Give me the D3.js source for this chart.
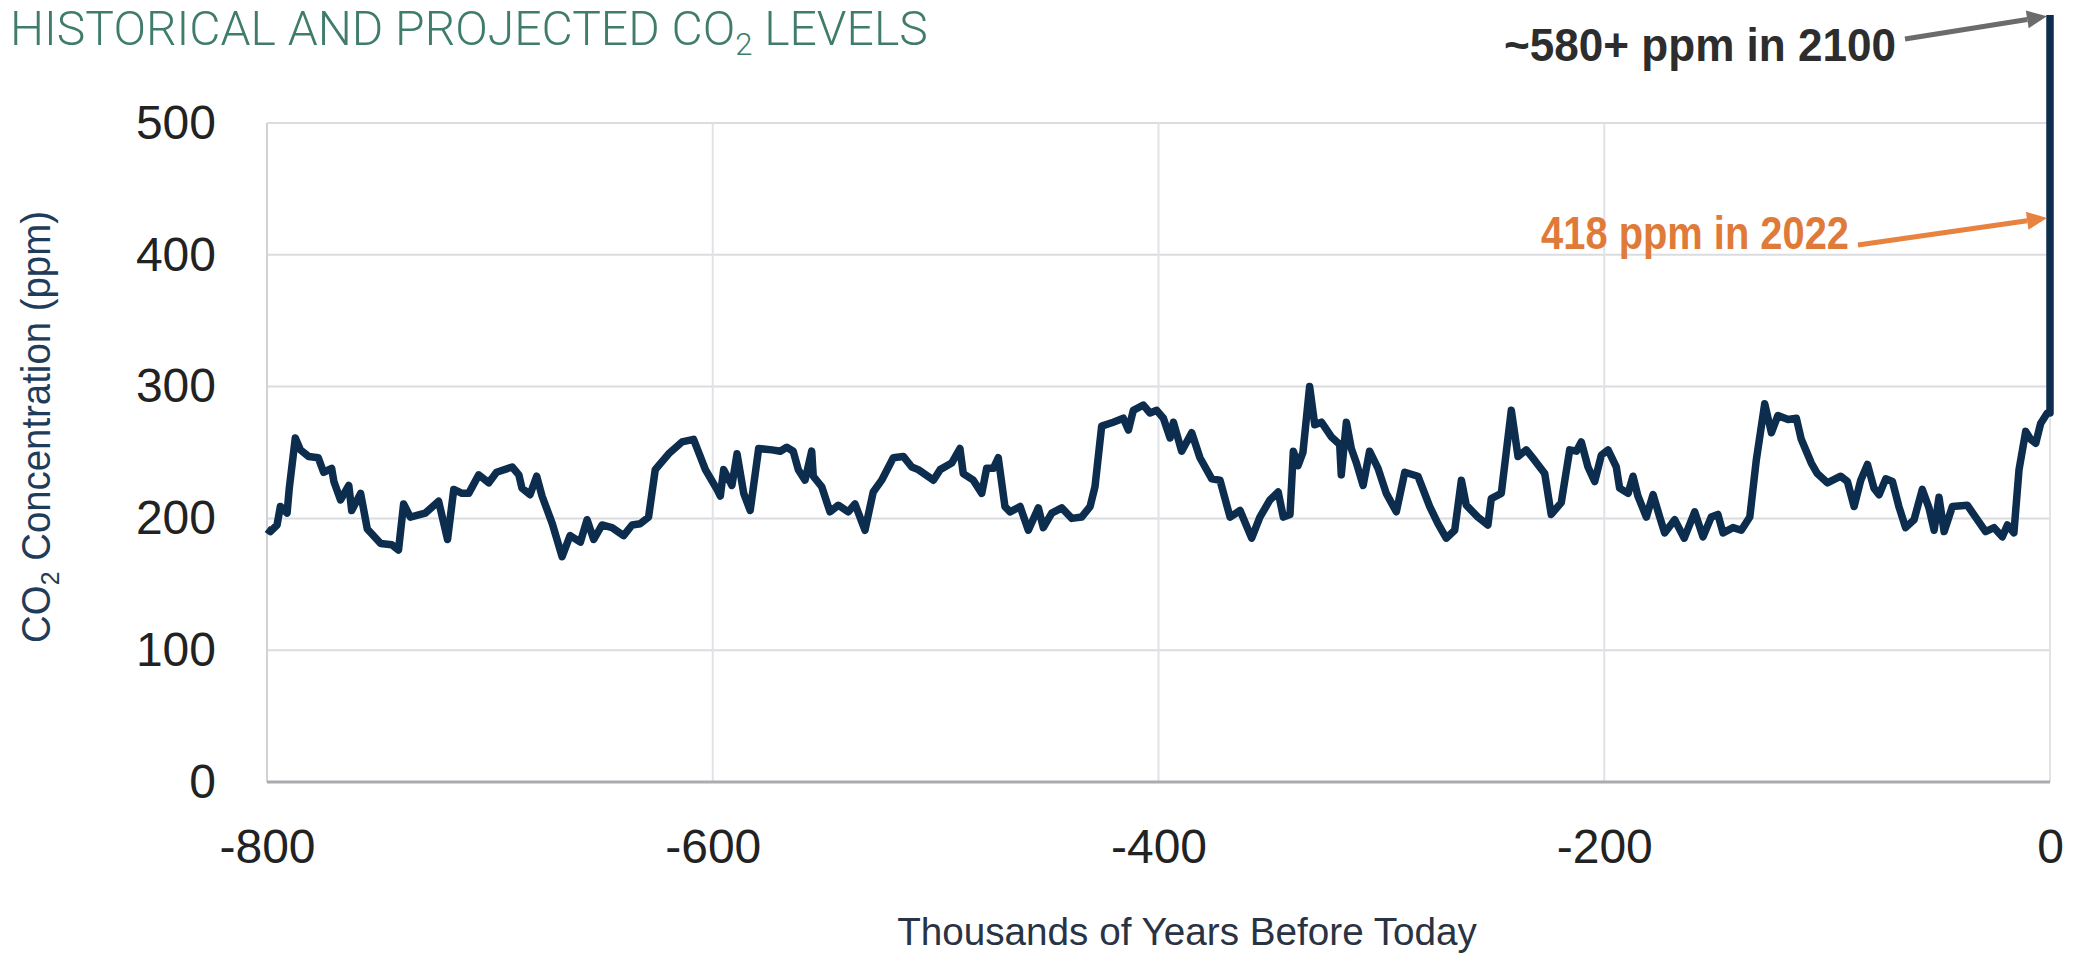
<!DOCTYPE html>
<html>
	<head>
		<meta charset="utf-8" />
		<title>Historical and projected CO2 levels</title>
		<style>
			body { margin: 0; background: #fff; }
			#graph { width: 2074px; height: 962px; }
			#graph text { font-family: "Liberation Sans", Arial, sans-serif; }
		</style>
	</head>
	<body>
		<div id="graph"></div>
		<script src="https://cdnjs.cloudflare.com/ajax/libs/d3/7.8.5/d3.min.js"></script>
		<script>
			// thousands of years before today
			var years = [-800, -798.5, -795.5, -794, -791, -790, -787.3, -785, -781.3, -777, -774.6, -771, -770, -767, -763.3, -762, -758, -755, -749, -744, -741,
				-738.7, -735.7, -729, -723, -719, -716.2, -712.5, -709.5, -705, -700.5, -697, -690, -687, -685.6, -682, -679, -676.6, -672, -667.6, -664,
				-659.4, -656.4, -653.4, -649.7, -645.2, -640, -636.2, -632.5, -628.8, -625.8, -619.8, -613.8, -608.6, -603.3, -598.1, -596.6, -595.1, -591.4,
				-589.1, -586.1, -583.2, -579.4, -573.4, -569.7, -566.8, -563.9, -561.6, -558.6, -555.6, -554.9, -551.1, -547.4, -543.7, -539.2, -536.2,
				-531.7, -528, -524.2, -519, -514.5, -510.7, -507.8, -501, -498, -492.8, -489.1, -487.6, -483.1, -479.3, -477.1, -474.1, -471.9, -468.9,
				-466.6, -462.1, -458.4, -453.9, -451.7, -447.9, -443.4, -438.9, -434.5, -430.7, -428.5, -425.5, -420.3, -415.8, -413.5, -411.3, -406.8,
				-403.8, -400.8, -397.8, -394.8, -393.3, -389.6, -385.1, -381.4, -376.1, -372.4, -367.9, -363.4, -358.2, -354.5, -350, -346.3, -344, -341,
				-339.5, -337.4, -335.2, -332.2, -329.9, -326.9, -322.5, -318.7, -318, -315.7, -313.5, -311.2, -308.2, -305.3, -301.5, -297.8, -293.3,
				-289.5, -283.6, -278.3, -274.6, -270.9, -267.1, -264.1, -261.9, -256.7, -252.2, -250.7, -246.2, -241.7, -238.7, -235, -231.2, -226.7,
				-223.8, -219.3, -215.5, -212.5, -210.3, -207.3, -204.3, -201.3, -198.3, -194.6, -193.1, -189.3, -187.1, -184.9, -181.1, -178.1, -175.1,
				-172.9, -168.4, -164.1, -159.4, -155.7, -152, -149, -146.7, -142.2, -138.5, -134.7, -131.8, -128, -125, -122.1, -117.5, -113.8, -111.6,
				-107.1, -104.4, -99.9, -93.9, -90.9, -87.9, -84.9, -81.9, -79, -76.7, -73.7, -70.7, -67.8, -64.8, -61, -57.3, -54.3, -52, -49.8, -47.5,
				-43.8, -37.1, -33.4, -28.9, -25.1, -21.4, -19.1, -16.2, -13.9, -10.9, -8.7, -6.4, -4.2, -1.2, 0, 0, 0];
			var co2 = [192, 190, 195, 209, 204, 223, 261, 252, 247, 246, 235, 238, 228, 214, 225, 206, 219, 192, 181, 180, 176,
				211, 201, 204, 213, 184, 222, 219, 219, 233, 227, 235, 239, 233, 223, 218, 232, 217, 196, 171, 187,
				182, 199, 184, 195, 193, 187, 195, 196, 201, 237, 249, 258, 260, 237, 222, 217, 237, 225,
				249, 219, 206, 253, 252, 251, 254, 251, 237, 229, 251, 232, 224, 205, 210, 205, 211,
				191, 220, 229, 246, 247, 239, 237, 229, 237, 242, 253, 234, 229, 219, 238, 238, 246, 209,
				205, 209, 191, 208, 193, 204, 208, 200, 201, 209, 224, 270, 273, 276, 267, 282, 286,
				280, 282, 276, 261, 273, 251, 265, 246, 230, 229, 201, 206, 185, 201, 214, 220, 201, 203,
				251, 240, 250, 300, 271, 273, 262, 256, 233, 273, 253, 242, 225, 251, 238, 219, 205,
				235, 232, 209, 196, 185, 191, 229, 210, 201, 195, 215, 219, 282, 247, 252, 244, 234,
				203, 212, 252, 251, 258, 239, 228, 248, 252, 239, 223, 219, 232, 217, 201, 218, 201,
				189, 199, 185, 205, 186, 201, 203, 189, 193, 191, 201, 244, 287, 265, 278, 275, 276, 260,
				242, 234, 227, 232, 228, 209, 229, 241, 223, 218, 230, 228, 209, 193, 199, 222, 208, 191, 216, 190,
				209, 210, 201, 190, 193, 186, 195, 189, 237, 266, 260, 257, 272, 280, 280, 418, 582];

			var xTicks = [-800, -600, -400, -200, 0];
			var yTicks = [0, 100, 200, 300, 400, 500];

			// call-outs: label and the ppm value the arrow points at (on the 0 line)
			var noteLabels = ["~580+ ppm in 2100", "418 ppm in 2022"];
			var noteValues = [581, 428];

			!(function(){
				var width = 2074, height = 962;
				var svg = d3.select("#graph").append("svg")
					.attr("width", width)
					.attr("height", height);
				var x = d3.scaleLinear().domain([-800, 0]).range([267, 2050]);
				var y = d3.scaleLinear().domain([0, 500]).range([782, 123]);

				main();

				function main() {
					drawGrid();
					drawAxes();
					drawLine();
					drawNotes();
					drawTitles();
				}

				// squash a text horizontally so it takes up w pixels
				function squeeze(text, w) {
					var len = text.node().getComputedTextLength();
					text.attr("transform", "scale(" + (w / len) + ",1)");
				}

				function drawGrid() {
					svg.append("g").selectAll("line")
						.data(yTicks.filter(function(d){ return d > 0; }))
						.enter().append("line")
						.attr("x1", x(-800)).attr("x2", x(0))
						.attr("y1", function(d){ return y(d); })
						.attr("y2", function(d){ return y(d); })
						.attr("stroke", "#dadcdf").attr("stroke-width", 2);
					svg.append("g").selectAll("line")
						.data(xTicks)
						.enter().append("line")
						.attr("x1", function(d){ return x(d); })
						.attr("x2", function(d){ return x(d); })
						.attr("y1", y(0)).attr("y2", y(500))
						.attr("stroke", function(d){ return d == -800 ? "#d0d2d5" : "#e0e2e5"; })
						.attr("stroke-width", 2);
					svg.append("line")
						.attr("x1", x(-800)).attr("x2", x(0))
						.attr("y1", y(0)).attr("y2", y(0))
						.attr("stroke", "#a9abae").attr("stroke-width", 3);
				}

				function drawAxes() {
					var ya = svg.append("g")
						.attr("transform", "translate(" + x(-800) + ",0)")
						.call(d3.axisLeft(y).tickValues(yTicks).tickSize(0).tickPadding(51));
					var xa = svg.append("g")
						.attr("transform", "translate(0," + y(0) + ")")
						.call(d3.axisBottom(x).tickValues(xTicks).tickSize(0).tickPadding(47)
							.tickFormat(d3.format("d")));
					[ya, xa].forEach(function(a){
						a.select(".domain").remove();
						a.selectAll("text")
							.attr("font-family", "Liberation Sans, Arial, sans-serif")
							.attr("font-size", 48)
							.attr("fill", "#222");
					});
					// d3 prints a unicode minus, the chart uses a hyphen
					xa.selectAll("text").text(function(d){ return String(d); });
				}

				function drawLine() {
					var line = d3.line()
						.x(function(d){ return x(d[0]); })
						.y(function(d){ return y(d[1]); });
					svg.append("path")
						.datum(d3.zip(years, co2))
						.attr("d", line)
						.attr("fill", "none")
						.attr("stroke", "#0c2d4d")
						.attr("stroke-width", 7.5)
						.attr("stroke-linejoin", "round");
				}

				function arrow(x1, y1, x2, y2, color) {
					var a = Math.atan2(y2 - y1, x2 - x1), len = 20, hw = 9;
					var bx = x2 - len * Math.cos(a), by = y2 - len * Math.sin(a);
					svg.append("line")
						.attr("x1", x1).attr("y1", y1).attr("x2", bx).attr("y2", by)
						.attr("stroke", color).attr("stroke-width", 5);
					svg.append("path")
						.attr("d", "M" + x2 + "," + y2 +
							"L" + (bx + hw * Math.sin(a)) + "," + (by - hw * Math.cos(a)) +
							"L" + (bx - hw * Math.sin(a)) + "," + (by + hw * Math.cos(a)) + "Z")
						.attr("fill", color);
				}

				function drawNotes() {
					var colors = ["#6b6b6b", "#e8823f"];
					var textColors = ["#2d2d2d", "#e07a38"];
					var pos = [[1896, 61, 392], [1849, 249, 308]];
					var tails = [[1905, 39], [1858, 245]];
					noteLabels.forEach(function(label, i){
						var g = svg.append("g").attr("transform", "translate(" + pos[i][0] + "," + pos[i][1] + ")");
						var t = g.append("text")
							.attr("text-anchor", "end")
							.attr("font-size", 47)
							.attr("font-weight", "bold")
							.attr("fill", textColors[i])
							.text(label);
						squeeze(t, pos[i][2]);
						arrow(tails[i][0], tails[i][1], x(0) - 3, y(noteValues[i]), colors[i]);
					});
				}

				function drawTitles() {
					// chart title with subscript 2
					var g = svg.append("g").attr("transform", "translate(10,45)");
					var t = g.append("text")
						.attr("font-size", 48)
						.attr("fill", "#3f7c6c")
						.style("font-family", "Roboto, 'Liberation Sans', sans-serif")
						.style("font-weight", 300);
					t.append("tspan").text("HISTORICAL AND PROJECTED CO");
					t.append("tspan").attr("font-size", 31).attr("dy", 10).text("2");
					t.append("tspan").attr("dy", -10).text(" LEVELS");
					squeeze(t, 918);

					var gy = svg.append("g").attr("transform", "translate(50,427) rotate(-90)");
					var ty = gy.append("text")
						.attr("text-anchor", "middle")
						.attr("font-size", 40)
						.attr("fill", "#1f3c5a");
					ty.append("tspan").text("CO");
					ty.append("tspan").attr("font-size", 26).attr("dy", 9).text("2");
					ty.append("tspan").attr("dy", -9).text(" Concentration (ppm)");
					squeeze(ty, 432);

					var gx = svg.append("g").attr("transform", "translate(1187,945)");
					var tx = gx.append("text")
						.attr("text-anchor", "middle")
						.attr("font-size", 38)
						.attr("fill", "#2a3343")
						.text("Thousands of Years Before Today");
					squeeze(tx, 580);
				}
			}());
		</script>
	</body>
</html>
